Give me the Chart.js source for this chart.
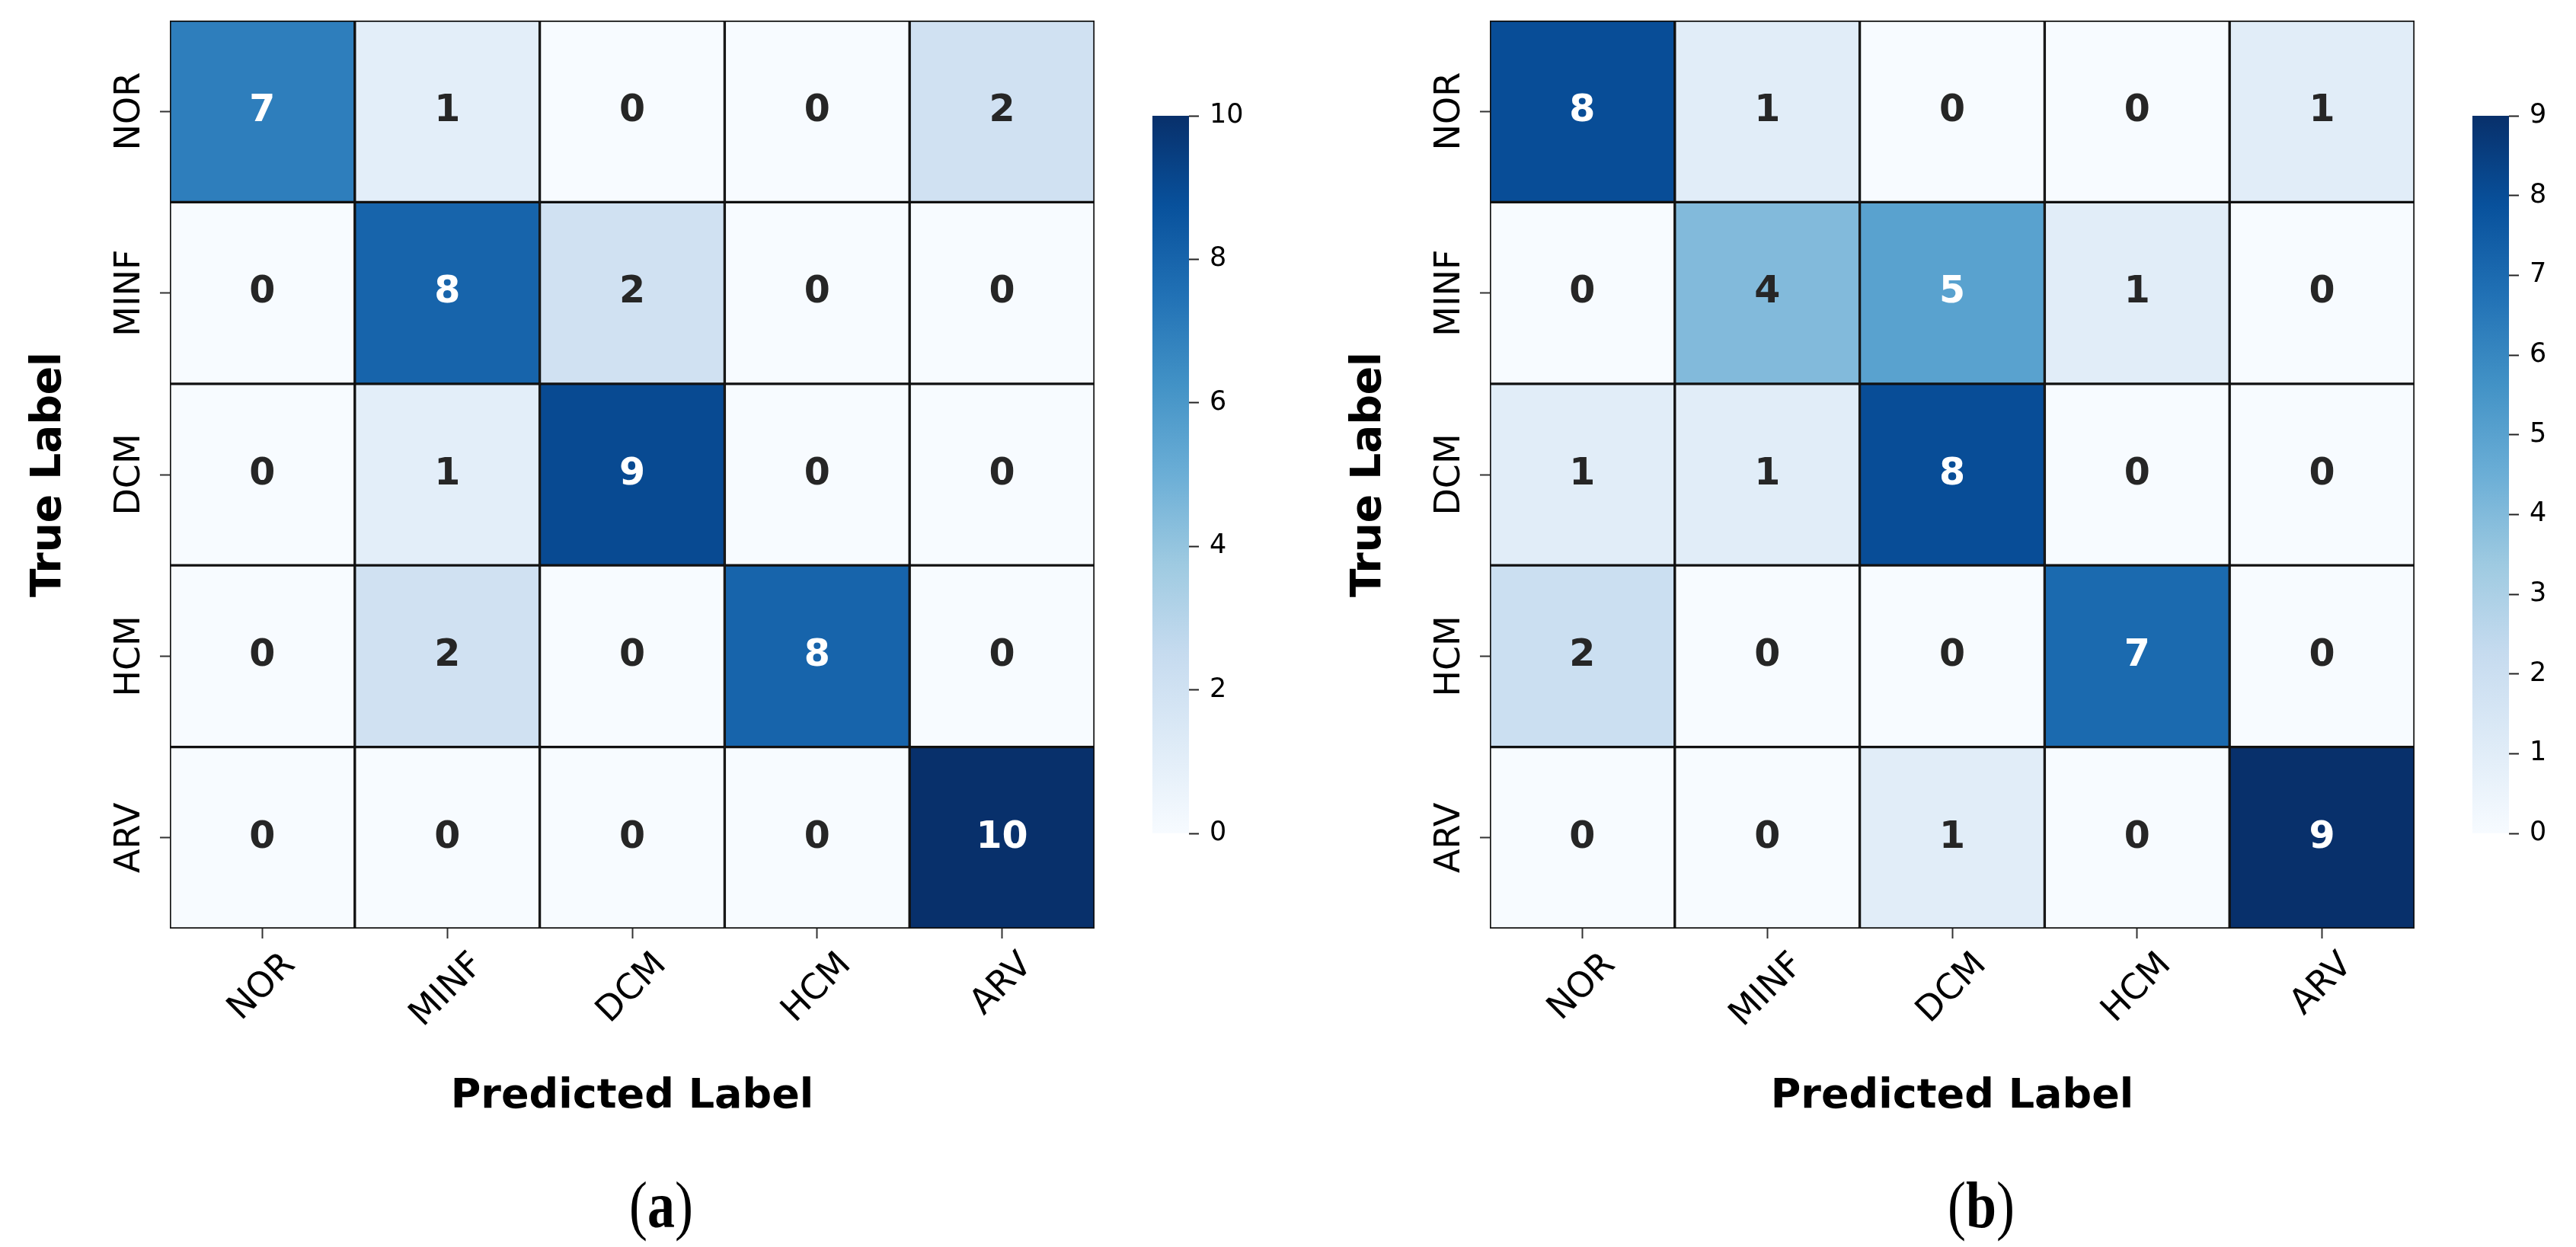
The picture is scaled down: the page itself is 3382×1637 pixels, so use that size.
<!DOCTYPE html>
<html>
<head>
<meta charset="utf-8">
<script src="https://cdn.jsdelivr.net/npm/chart.js@4.4.1/dist/chart.umd.min.js"></script>
<style>
  html, body { margin: 0; padding: 0; background: #fff; }
  body { width: 3382px; height: 1637px; position: relative; overflow: hidden; }
  canvas { position: absolute; }
  .cap {
    position: absolute; width: 240px; text-align: center;
    font-family: "Liberation Serif", serif; font-size: 72px; line-height: 72px;
    color: #000; transform: scale(1, 1.2); transform-origin: center center;
  }
</style>
</head>
<body>
<script>
// confusion matrices, rows = true label, cols = predicted label
const classes = ["NOR", "MINF", "DCM", "HCM", "ARV"];
const matrixA = [
  [7, 1, 0, 0, 2],
  [0, 8, 2, 0, 0],
  [0, 1, 9, 0, 0],
  [0, 2, 0, 8, 0],
  [0, 0, 0, 0, 10],
];
const matrixB = [
  [8, 1, 0, 0, 1],
  [0, 4, 5, 1, 0],
  [1, 1, 8, 0, 0],
  [2, 0, 0, 7, 0],
  [0, 0, 1, 0, 9],
];
const cbarTicksA = [0, 2, 4, 6, 8, 10];
const cbarTicksB = [0, 1, 2, 3, 4, 5, 6, 7, 8, 9];
const captions = ["a", "b"];

// matplotlib "Blues"
const BLUES = ["#f7fbff", "#deebf7", "#c6dbef", "#9ecae1", "#6baed6", "#4292c6", "#2171b5", "#08519c", "#08306b"];

Chart.defaults.font.family = '"DejaVu Sans", sans-serif';
Chart.defaults.color = "#000";

const hexRgb = (h) => [1, 3, 5].map((i) => parseInt(h.slice(i, i + 2), 16));

function blues(t) {
  t = Math.max(0, Math.min(1, t));
  const p = t * 8;
  const i = Math.min(7, Math.floor(p));
  const f = p - i;
  const a = hexRgb(BLUES[i]), b = hexRgb(BLUES[i + 1]);
  return a.map((v, k) => Math.round(v + (b[k] - v) * f));
}
const rgbStr = (c) => `rgb(${c[0]},${c[1]},${c[2]})`;

// seaborn picks the annotation colour from the cell luminance
function textColor(c) {
  const lin = c.map((v) => {
    v /= 255;
    return v <= 0.03928 ? v / 12.92 : Math.pow((v + 0.055) / 1.055, 2.4);
  });
  const l = 0.2126 * lin[0] + 0.7152 * lin[1] + 0.0722 * lin[2];
  return l > 0.408 ? "#262626" : "#ffffff";
}

// panel geometry (left panel; right panel is shifted)
const PANEL_SHIFT = 1733;
const PLOT = { left: 223, top: 27, right: 1437, bottom: 1219 };
const HEAT_W = 1500, HEAT_H = 1637;
const CB = { left: 1513, top: 147, bottom: 1099, width: 48, axis: 85, pad: 30 };

function addCanvas(left, top, w, h) {
  const c = document.createElement("canvas");
  c.width = w; c.height = h;
  c.style.left = left + "px"; c.style.top = top + "px";
  c.style.width = w + "px"; c.style.height = h + "px";
  document.body.appendChild(c);
  return c;
}

function makeHeatmap(offset, matrix, vmax) {
  const canvas = addCanvas(offset, 0, HEAT_W, HEAT_H);

  const datasets = matrix.map((row, r) => ({
    data: row.map(() => [r, r + 1]),
    backgroundColor: row.map((v) => rgbStr(blues(v / vmax))),
    borderColor: "#111",
    borderWidth: 2,
    borderSkipped: false,
    barPercentage: 1,
    categoryPercentage: 1,
    grouped: false,
  }));

  const cellText = {
    id: "cellText",
    afterDatasetsDraw(chart) {
      const ctx = chart.ctx;
      ctx.save();
      ctx.font = 'bold 49px "DejaVu Sans"';
      ctx.textAlign = "center";
      ctx.textBaseline = "middle";
      matrix.forEach((row, r) => {
        chart.getDatasetMeta(r).data.forEach((bar, c) => {
          const v = row[c];
          ctx.fillStyle = textColor(blues(v / vmax));
          ctx.fillText(String(v), bar.x, (bar.y + bar.base) / 2);
        });
      });
      ctx.restore();
    },
  };

  // matplotlib-like tick labels: y rotated 90, x rotated 45 and centred on the tick
  const tickText = {
    id: "tickText",
    afterDraw(chart) {
      const ctx = chart.ctx;
      const area = chart.chartArea;
      const xs = chart.scales.x, ys = chart.scales.y;
      const size = 46;
      ctx.save();
      ctx.font = size + 'px "DejaVu Sans"';
      ctx.fillStyle = "#000";
      ctx.textAlign = "center";
      ctx.textBaseline = "middle";
      classes.forEach((name, i) => {
        const py = ys.getPixelForValue(i + 0.5);
        ctx.save();
        ctx.translate(area.left - 52, py);
        ctx.rotate(-Math.PI / 2);
        ctx.fillText(name, 0, 0);
        ctx.restore();

        const px = xs.getPixelForValue(i);
        const w = ctx.measureText(name).width;
        const half = (w + 0.729 * size) * Math.SQRT1_2 / 2;
        ctx.save();
        ctx.translate(px, area.bottom + 29 + half);
        ctx.rotate(-Math.PI / 4);
        ctx.fillText(name, 0, 0);
        ctx.restore();
      });
      ctx.restore();
    },
  };

  const tickGrid = {
    drawOnChartArea: false,
    drawTicks: true,
    tickLength: 13,
    tickColor: "#333",
    tickWidth: 2,
    offset: false,
  };

  new Chart(canvas, {
    type: "bar",
    data: { labels: classes, datasets },
    options: {
      responsive: false,
      animation: false,
      layout: { padding: { left: 0, top: PLOT.top, right: HEAT_W - PLOT.right, bottom: 0 } },
      plugins: { legend: { display: false }, tooltip: { enabled: false } },
      scales: {
        x: {
          type: "category",
          offset: true,
          grid: tickGrid,
          border: { display: false },
          ticks: { display: false },
          title: {
            display: true,
            text: "Predicted Label",
            font: { size: 54, weight: "bold" },
            color: "#000",
            padding: { top: 0, bottom: 165 },
          },
          afterFit: (s) => { s.height = HEAT_H - PLOT.bottom; },
        },
        y: {
          type: "linear",
          min: 0,
          max: classes.length,
          reverse: true,
          grid: tickGrid,
          border: { display: false },
          ticks: { display: false },
          afterBuildTicks: (s) => { s.ticks = classes.map((_, i) => ({ value: i + 0.5 })); },
          title: {
            display: true,
            text: "True Label",
            font: { size: 55, weight: "bold" },
            color: "#000",
            padding: { top: 32, bottom: 0 },
          },
          afterFit: (s) => { s.width = PLOT.left; },
        },
      },
    },
    plugins: [cellText, tickText],
  });
}

function makeColorbar(offset, vmax, tickVals) {
  const h = CB.bottom - CB.top + 2 * CB.pad;
  const canvas = addCanvas(offset + CB.left, CB.top - CB.pad, CB.width + CB.axis, h);
  new Chart(canvas, {
    type: "bar",
    data: {
      labels: [""],
      datasets: [{
        data: [[0, vmax]],
        barPercentage: 1,
        categoryPercentage: 1,
        borderWidth: 0,
        backgroundColor: (ctx) => {
          const area = ctx.chart.chartArea;
          if (!area) return BLUES[0];
          const g = ctx.chart.ctx.createLinearGradient(0, area.bottom, 0, area.top);
          BLUES.forEach((c, i) => g.addColorStop(i / (BLUES.length - 1), c));
          return g;
        },
      }],
    },
    options: {
      responsive: false,
      animation: false,
      layout: { padding: { left: 0, right: 0, top: CB.pad, bottom: CB.pad } },
      plugins: { legend: { display: false }, tooltip: { enabled: false } },
      scales: {
        x: { display: false },
        y: {
          position: "right",
          min: 0,
          max: vmax,
          afterBuildTicks: (s) => { s.ticks = tickVals.map((v) => ({ value: v })); },
          grid: { drawOnChartArea: false, tickLength: 13, tickColor: "#222", tickWidth: 2 },
          border: { display: false },
          ticks: { padding: 14, font: { size: 35 }, color: "#000" },
          afterFit: (s) => { s.width = CB.axis; },
        },
      },
    },
  });
}

makeHeatmap(0, matrixA, 10);
makeColorbar(0, 10, cbarTicksA);
makeHeatmap(PANEL_SHIFT, matrixB, 9);
makeColorbar(PANEL_SHIFT, 9, cbarTicksB);

// sub-figure captions
captions.forEach((t, i) => {
  const d = document.createElement("div");
  d.className = "cap";
  d.innerHTML = `(<b>${t}</b>)`;
  d.style.left = (868 + i * PANEL_SHIFT - 120) + "px";
  d.style.top = (1582 - 36) + "px";
  document.body.appendChild(d);
});
</script>
</body>
</html>
